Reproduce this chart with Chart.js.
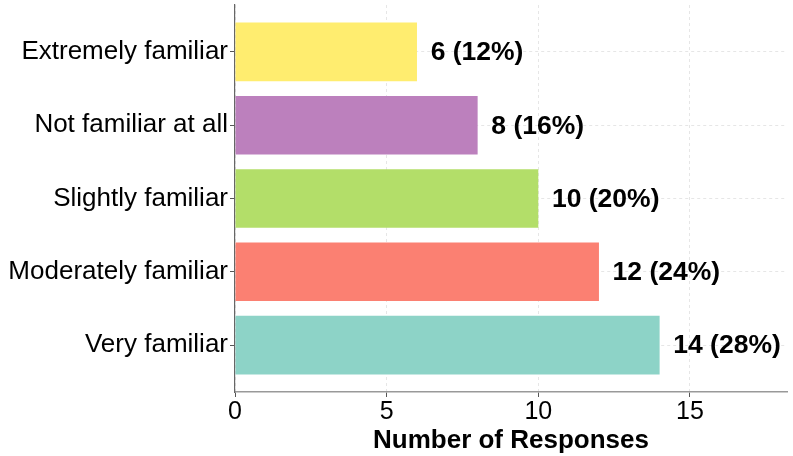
<!DOCTYPE html>
<html>
<head>
<meta charset="utf-8">
<script src="https://cdn.jsdelivr.net/npm/chart.js@4"></script>
<style>
    html, body { margin: 0; padding: 0; background: #fff; }
    #wrap { width: 793px; height: 456px; }
</style>
</head>
<body>
<div id="wrap"><canvas id="chart"></canvas></div>
<script>
// categories top to bottom
const categories = ['Extremely familiar', 'Not familiar at all', 'Slightly familiar', 'Moderately familiar', 'Very familiar'];
const responses = [6, 8, 10, 12, 14];
const percents = [12, 16, 20, 24, 28];
const barColors = ['#ffed6f', '#bc80bd', '#b3de69', '#fb8072', '#8dd3c7'];
const xTicks = [0, 5, 10, 15];

const font = 'Liberation Sans, Arial, sans-serif';

const valueLabels = {
    id: 'valueLabels',
    afterDatasetsDraw(chart) {
        const ctx = chart.ctx;
        const meta = chart.getDatasetMeta(0);
        const xs = chart.scales.x;
        ctx.save();
        ctx.font = 'bold 26.5px ' + font;
        ctx.fillStyle = '#000';
        ctx.textAlign = 'left';
        ctx.textBaseline = 'middle';
        meta.data.forEach((bar, i) => {
            const x = xs.getPixelForValue(responses[i] + 0.45);
            ctx.fillText(`${responses[i]} (${percents[i]}%)`, x, bar.y + 1);
        });
        ctx.restore();
    }
};

new Chart(document.getElementById('chart'), {
    type: 'bar',
    data: {
        datasets: [{
            data: responses.map((v, i) => ({ x: v, y: i })),
            backgroundColor: barColors,
            barPercentage: 0.8,
            categoryPercentage: 1
        }]
    },
    options: {
        indexAxis: 'y',
        responsive: true,
        maintainAspectRatio: false,
        animation: false,
        layout: { padding: { top: 5, right: 6, left: 0, bottom: 0 } },
        plugins: { legend: { display: false }, tooltip: { enabled: false } },
        scales: {
            x: {
                type: 'linear',
                min: 0,
                max: 18.2,
                afterBuildTicks: s => { s.ticks = xTicks.map(v => ({ value: v })); },
                afterFit: s => { s.height = 64; s.paddingRight = 0; },
                grid: { color: '#e6e6e6', tickColor: '#555', tickLength: 5, tickBorderDash: [] },
                border: { color: '#999', width: 1.5, dash: [3, 3] },
                ticks: { color: '#000', font: { family: font, size: 25 }, padding: 0 },
                title: { display: true, text: 'Number of Responses', color: '#000', font: { family: font, size: 26, weight: 'bold' }, padding: { top: -4, bottom: 0 } }
            },
            y: {
                type: 'linear',
                reverse: true,
                offset: false,
                min: -0.64,
                max: 4.64,
                afterBuildTicks: s => { s.ticks = categories.map((c, i) => ({ value: i })); },
                afterFit: s => { s.width = 235; s.paddingTop = 0; s.paddingBottom = 0; },
                grid: { offset: false, color: '#e6e6e6', tickColor: '#555', tickLength: 5, tickBorderDash: [] },
                border: { color: '#666', width: 1.2, dash: [3, 3] },
                ticks: { color: '#000', font: { family: font, size: 26 }, padding: 2, callback: v => categories[v] }
            }
        }
    },
    plugins: [valueLabels]
});
</script>
</body>
</html>
